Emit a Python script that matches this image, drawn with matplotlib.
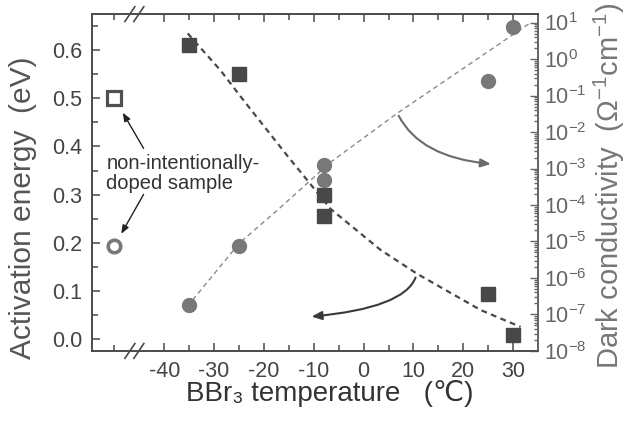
import matplotlib
matplotlib.use("Agg")
import matplotlib.pyplot as plt
from matplotlib.patches import FancyArrowPatch
from matplotlib.ticker import FixedLocator, MultipleLocator, LogLocator, NullFormatter

plt.rcParams['font.family'] = ['Liberation Sans', 'DejaVu Sans']
plt.rcParams['mathtext.fontset'] = 'custom'
plt.rcParams['mathtext.rm'] = 'Liberation Sans'
plt.rcParams['mathtext.it'] = 'Liberation Sans:italic'
plt.rcParams['mathtext.bf'] = 'Liberation Sans:bold'
plt.rcParams['axes.unicode_minus'] = False

# doped samples: BBr3 temperature (C) vs activation energy (eV) / dark conductivity (S/cm)
temp = [-35, -25, -8, -8, 25, 30]
act_energy = [0.61, 0.55, 0.30, 0.255, 0.093, 0.008]
dark_cond = [1.8e-7, 7.6e-6, 1.26e-3, 4.8e-4, 0.25, 7.6]

# non-intentionally-doped sample, shown left of the axis break
undoped_x = -50
undoped_energy = 0.50
undoped_cond = 7.6e-6

# guide-to-the-eye curves
guide_energy_t = [-35.3, -28.7, -24.1, -15.1, -11.0, -6.6, 3.4, 10.8, 23.5, 31.5]
guide_energy = [0.635, 0.558, 0.496, 0.378, 0.326, 0.270, 0.185, 0.135, 0.060, 0.025]
guide_cond_t = [-34.3, -24.9, -17.3, -10.6, -6.6, 6.8, 33.1]
guide_cond = [2.5e-7, 9.1e-6, 7.2e-5, 4.8e-4, 1.5e-3, 3.3e-2, 9.1]

x_major = [-40, -30, -20, -10, 0, 10, 20, 30]
x_minor = [-50, -35, -25, -15, -5, 5, 15, 25]
break_x = -46

DARK = "#484848"
GREY = "#787878"
AXC = "#4a4a4a"

fig = plt.figure(figsize=(6.3, 4.28), dpi=100)
ax = fig.add_axes([0.146, 0.180, 0.708, 0.787])
ax2 = ax.twinx()

ax.plot(guide_energy_t, guide_energy, color=DARK, lw=1.6, dashes=(2.6, 2.0))
ax.plot(temp, act_energy, "s", ms=9.5, color=DARK, mec=DARK, zorder=3)
ax.plot([undoped_x], [undoped_energy], "s", ms=9.5, mfc="white", mec="#505050", mew=2.3, zorder=3)

ax2.plot(guide_cond_t, guide_cond, color="#8a8a8a", lw=1.0, dashes=(3.5, 2.6))
ax2.plot(temp, dark_cond, "o", ms=10, color=GREY, mec=GREY, zorder=3)
ax2.plot([undoped_x], [undoped_cond], "o", ms=9, mfc="white", mec=GREY, mew=2.6, zorder=3)

ax.set_xlim(-54.5, 35)
ax.set_ylim(-0.025, 0.675)
ax2.set_yscale("log")
ax2.set_ylim(1e-8, 17)

ax.xaxis.set_major_locator(FixedLocator(x_major))
ax.xaxis.set_minor_locator(FixedLocator(x_minor))
ax.yaxis.set_major_locator(MultipleLocator(0.1))
ax.yaxis.set_minor_locator(MultipleLocator(0.05))
ax.yaxis.set_major_formatter(plt.FormatStrFormatter("%.1f"))
ax2.yaxis.set_major_locator(LogLocator(base=10, numticks=20))
ax2.yaxis.set_minor_locator(LogLocator(base=10, subs=range(2, 10), numticks=20))
ax2.yaxis.set_minor_formatter(NullFormatter())

ax.tick_params(which="both", direction="in", top=True, right=False, colors=AXC,
               labelsize=15.5, labelcolor="#444444", width=1.1)
ax.tick_params(which="major", length=6, pad=7)
ax.tick_params(which="minor", length=4)
ax2.tick_params(which="both", direction="in", colors="#666666", labelsize=15.5,
                labelcolor="#666666", width=1.0, pad=4)
ax2.tick_params(which="major", length=6)
ax2.tick_params(which="minor", length=3)

for a in (ax, ax2):
    for s in a.spines.values():
        s.set_color(AXC)
        s.set_linewidth(1.2)
ax2.spines["right"].set_color("#666666")

# axis break marks on top and bottom spines
tr = ax.get_xaxis_transform()
for yb in (0, 1):
    for dx in (-0.9, 0.9):
        ax.plot([break_x + dx - 1.0, break_x + dx + 1.0], [yb - 0.022, yb + 0.022],
                transform=tr, color=AXC, lw=1.2, clip_on=False)

ax.set_xlabel("BBr\u2083 temperature   (\u2103)", fontsize=20, color="#333333")
ax.xaxis.set_label_coords(0.534, -0.086)
ax.set_ylabel("Activation energy  (eV)", fontsize=21.5, color="#555555")
ax.yaxis.set_label_coords(-0.123, 0.424)
ax2.set_ylabel("Dark conductivity  ($\\Omega^{-1}$cm$^{-1}$)", fontsize=21, color="#777777")
ax2.yaxis.set_label_coords(1.121, 0.49)

ax.text(-51.6, 0.344, "non-intentionally-\ndoped sample", fontsize=14.5,
        color="#333333", ha="left", va="center", linespacing=1.1)
ax.annotate("", xy=(undoped_x, undoped_energy), xytext=(21, -36), textcoords="offset points",
            arrowprops=dict(arrowstyle="-|>,head_length=0.5,head_width=0.2", color="#222222",
                            lw=1.0, shrinkA=0, shrinkB=12))
ax2.annotate("", xy=(undoped_x, undoped_cond), xytext=(21, 37), textcoords="offset points",
             arrowprops=dict(arrowstyle="-|>,head_length=0.5,head_width=0.2", color="#222222",
                             lw=1.0, shrinkA=0, shrinkB=10))

# curved arrows pointing each guide curve to its axis
arr1 = FancyArrowPatch((6.8, 0.469), (26.1, 0.363), transform=ax.transData,
                       connectionstyle="angle3,angleA=-65,angleB=-5",
                       arrowstyle="-|>,head_length=6,head_width=2.5", color="#6a6a6a", lw=1.5)
arr2 = FancyArrowPatch((10.6, 0.133), (-11.0, 0.046), transform=ax.transData,
                       connectionstyle="angle3,angleA=-105,angleB=5",
                       arrowstyle="-|>,head_length=6,head_width=2.5", color="#3a3a3a", lw=1.5)
ax.add_patch(arr1)
ax.add_patch(arr2)

fig.savefig("out.png", dpi=100)
